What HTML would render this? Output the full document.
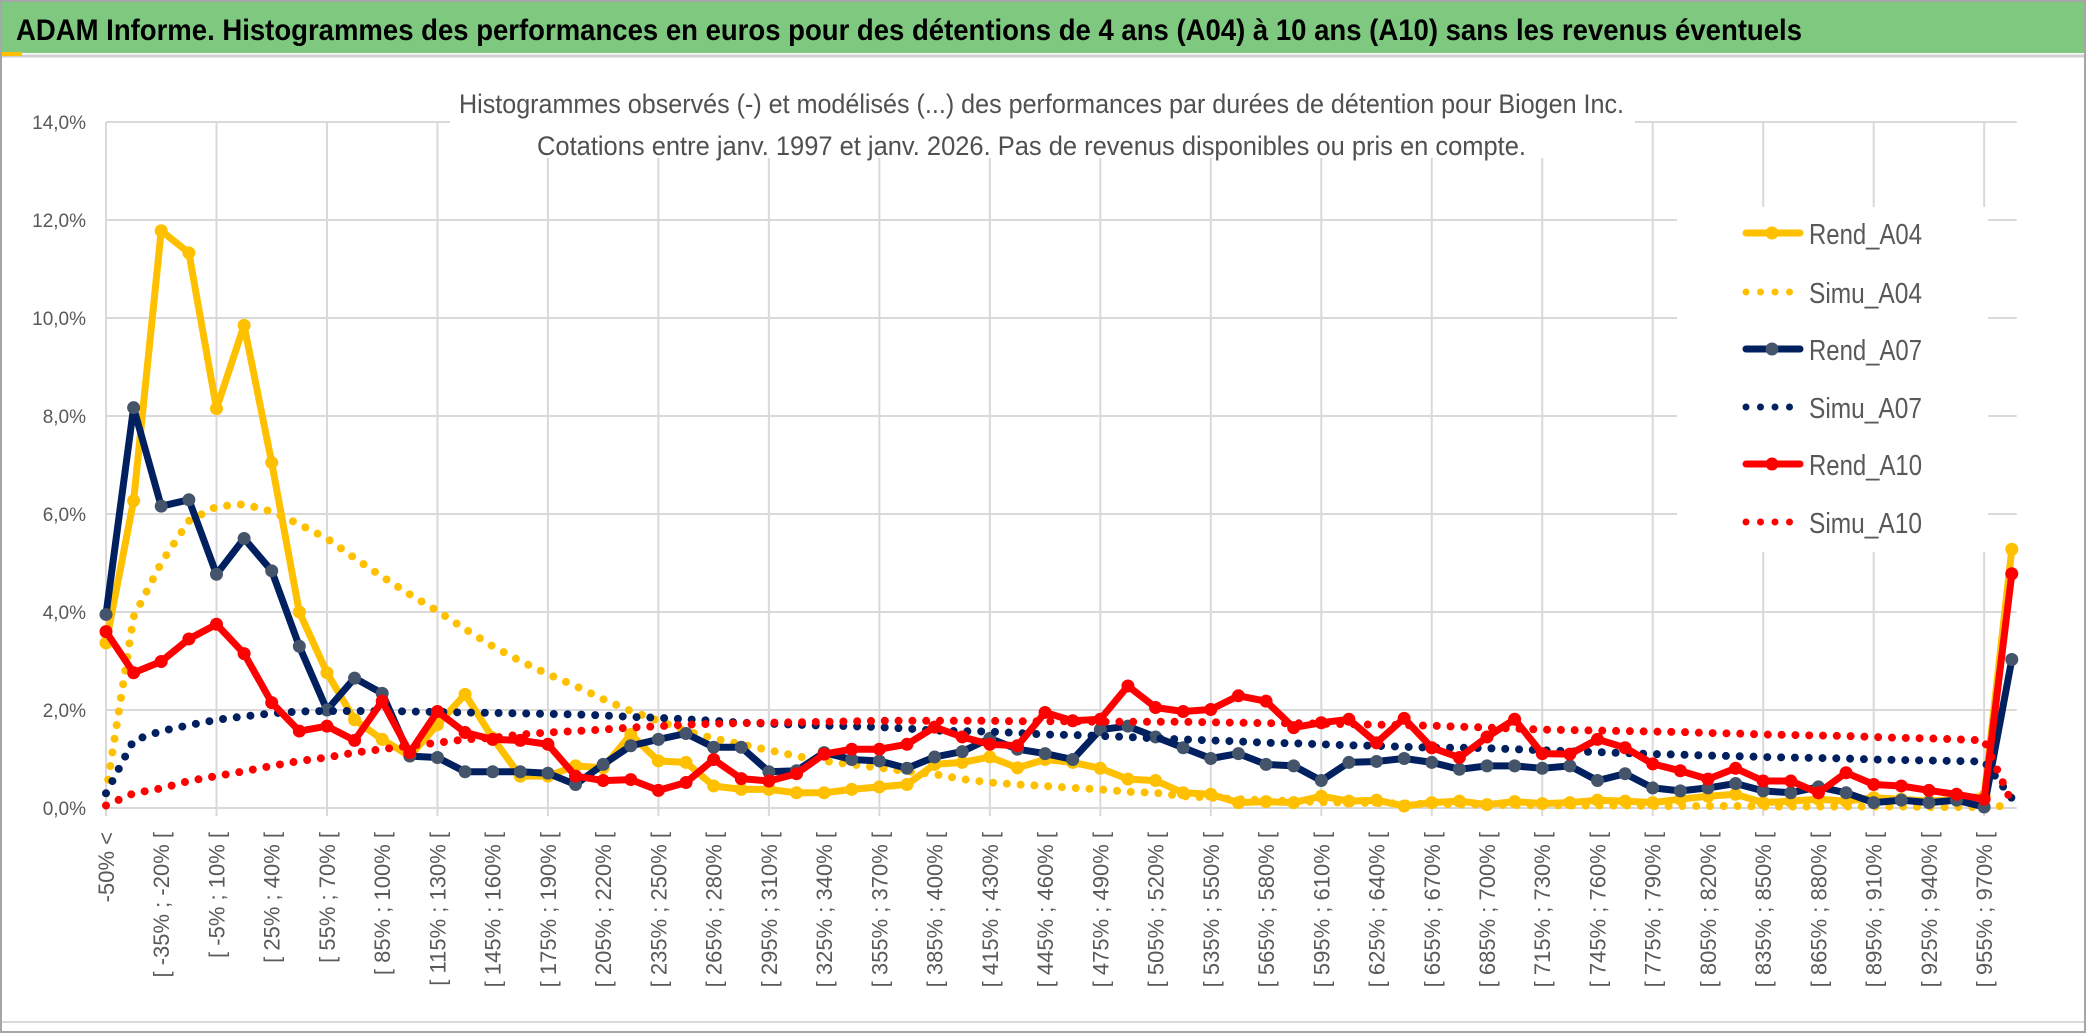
<!DOCTYPE html>
<html><head><meta charset="utf-8"><title>ADAM Informe - Biogen</title>
<style>html,body{margin:0;padding:0;background:#fff;}svg{display:block;}</style></head>
<body>
<svg id="chart" xmlns="http://www.w3.org/2000/svg" width="2086" height="1033" viewBox="0 0 2086 1033" font-family="'Liberation Sans', sans-serif">
  <rect x="0" y="0" width="2086" height="1033" fill="#fff"/>
  <rect x="1" y="1" width="2084" height="1031" fill="none" stroke="#a6a6a6" stroke-width="2"/>
  <rect x="2" y="2" width="2082" height="51" fill="#7ec97f"/>
  <line x1="2" y1="56" x2="2084" y2="56" stroke="#d0d0d0" stroke-width="3"/>
  <rect x="2" y="52" width="20" height="4" fill="#ffc000"/>
  <text x="16" y="40" font-size="30" font-weight="bold" fill="#000" textLength="1786" lengthAdjust="spacingAndGlyphs">ADAM Informe. Histogrammes des performances en euros pour des détentions de 4 ans (A04) à 10 ans (A10) sans les revenus éventuels</text>
  <line x1="2" y1="1022" x2="2084" y2="1022" stroke="#d9d9d9" stroke-width="2"/>
  <g id="grid"></g>
  <g id="yaxis"></g>
  <g id="xaxis"></g>
  <g id="series"></g>
  <rect x="450" y="72" width="1185" height="86" fill="#fff"/>
  <text x="459" y="113" font-size="27" fill="#505050" textLength="1165" lengthAdjust="spacingAndGlyphs">Histogrammes observés (-) et modélisés (...) des performances par durées de détention pour Biogen Inc.</text>
  <text x="537" y="155" font-size="27" fill="#505050" textLength="989" lengthAdjust="spacingAndGlyphs">Cotations entre janv. 1997 et janv. 2026. Pas de revenus disponibles ou pris en compte.</text>
  <g id="legend"></g>
</svg>
<script>
const rendA04 = [3.37,6.27,11.78,11.33,8.15,9.85,7.05,4.0,2.76,1.8,1.4,1.06,1.7,2.32,1.43,0.65,0.65,0.86,0.82,1.5,0.96,0.93,0.45,0.38,0.38,0.31,0.31,0.38,0.43,0.48,0.89,0.93,1.04,0.82,0.99,0.93,0.81,0.59,0.56,0.31,0.28,0.11,0.13,0.11,0.24,0.14,0.16,0.04,0.11,0.14,0.07,0.13,0.09,0.11,0.16,0.14,0.11,0.18,0.24,0.28,0.11,0.14,0.18,0.14,0.21,0.18,0.14,0.18,0.24,5.28];
const simuA04 = [0.3,3.9,5.0,5.86,6.15,6.2,6.05,5.79,5.5,5.1,4.72,4.36,4.02,3.65,3.3,3.0,2.73,2.49,2.22,1.98,1.78,1.57,1.42,1.3,1.18,1.06,0.96,0.89,0.82,0.75,0.69,0.59,0.52,0.48,0.45,0.41,0.38,0.33,0.31,0.24,0.21,0.18,0.16,0.14,0.12,0.11,0.1,0.09,0.08,0.07,0.07,0.06,0.06,0.05,0.05,0.05,0.04,0.04,0.04,0.04,0.03,0.03,0.03,0.03,0.03,0.03,0.02,0.02,0.02,0.05];
const rendA07 = [3.95,8.17,6.16,6.29,4.77,5.5,4.84,3.3,2.0,2.65,2.34,1.06,1.03,0.74,0.74,0.74,0.71,0.48,0.89,1.27,1.4,1.52,1.24,1.24,0.74,0.76,1.13,0.99,0.96,0.81,1.04,1.15,1.42,1.2,1.11,0.99,1.6,1.67,1.45,1.23,1.01,1.11,0.89,0.86,0.56,0.93,0.95,1.01,0.93,0.79,0.86,0.86,0.81,0.86,0.56,0.7,0.41,0.35,0.41,0.5,0.35,0.31,0.43,0.31,0.11,0.16,0.11,0.16,0.02,3.03];
const simuA07 = [0.3,1.38,1.57,1.69,1.8,1.87,1.93,1.97,1.98,1.98,1.98,1.97,1.96,1.95,1.94,1.93,1.92,1.91,1.89,1.86,1.84,1.81,1.78,1.74,1.72,1.7,1.68,1.67,1.65,1.62,1.58,1.57,1.56,1.53,1.5,1.49,1.47,1.45,1.42,1.4,1.38,1.36,1.33,1.32,1.3,1.28,1.27,1.25,1.23,1.23,1.22,1.2,1.18,1.16,1.14,1.12,1.1,1.09,1.07,1.06,1.04,1.03,1.02,1.01,0.99,0.98,0.97,0.96,0.95,0.2];
const rendA10 = [3.6,2.76,2.99,3.45,3.75,3.15,2.15,1.57,1.67,1.38,2.18,1.13,1.97,1.54,1.4,1.38,1.3,0.65,0.56,0.58,0.36,0.52,0.99,0.6,0.55,0.7,1.1,1.2,1.2,1.3,1.65,1.45,1.3,1.27,1.95,1.78,1.81,2.49,2.05,1.97,2.01,2.29,2.18,1.64,1.74,1.81,1.33,1.83,1.23,1.03,1.45,1.81,1.11,1.1,1.4,1.23,0.9,0.76,0.59,0.81,0.55,0.55,0.31,0.72,0.48,0.45,0.36,0.28,0.18,4.78];
const simuA10 = [0.05,0.3,0.4,0.55,0.65,0.75,0.86,0.96,1.03,1.13,1.2,1.27,1.33,1.4,1.43,1.5,1.54,1.57,1.6,1.64,1.67,1.7,1.72,1.73,1.74,1.75,1.76,1.77,1.78,1.78,1.78,1.78,1.78,1.77,1.77,1.77,1.76,1.76,1.76,1.76,1.75,1.74,1.73,1.73,1.72,1.71,1.7,1.69,1.68,1.66,1.64,1.62,1.6,1.59,1.58,1.57,1.56,1.55,1.53,1.52,1.5,1.49,1.48,1.47,1.45,1.43,1.42,1.4,1.38,0.11];
const yTicks = [0,2,4,6,8,10,12,14];
const seriesNames = ["Rend_A04","Simu_A04","Rend_A07","Simu_A07","Rend_A10","Simu_A10"];

const NS = "http://www.w3.org/2000/svg";
const nCat = rendA04.length;
const X0 = 106, STEP = 27.62, Y0 = 808, PX_PER_PCT = 49;
function xPos(i){ return X0 + i*STEP; }
function yPos(v){ return Y0 - v*PX_PER_PCT; }
function mk(tag, attrs, parent){ const e=document.createElementNS(NS,tag); for(const k in attrs) e.setAttribute(k, attrs[k]); parent.appendChild(e); return e; }
function catLabel(i){
  if(i===0) return "-50% <";
  if(i===nCat-1) return "> 970%";
  const a=-50+15*(i-1), b=a+15; return "[ "+a+"% ; "+b+"% [";
}

const grid=document.getElementById('grid');
yTicks.forEach(t=>{
  const l=mk('line',{x1:X0,x2:xPos(nCat-1)+5,y1:yPos(t),y2:yPos(t),stroke:'#d9d9d9','stroke-width':2},grid);
  
  
});
for(let i=0;i<nCat;i+=4){
  const l=mk('line',{x1:xPos(i),x2:xPos(i),y1:yPos(14),y2:yPos(0)+8,stroke:'#d9d9d9','stroke-width':2},grid);
  
  
}

const yax=document.getElementById('yaxis');
yTicks.forEach(t=>{
  const tx=mk('text',{x:86,y:yPos(t)+7,'text-anchor':'end','font-size':19,fill:'#595959'},yax);
  tx.textContent=t.toFixed(1).replace('.',',')+'%';
  
  
});

const xax=document.getElementById('xaxis');
for(let i=0;i<nCat;i+=2){
  const cx=xPos(i)+8, cy=832;
  const tx=mk('text',{x:cx,y:cy,'text-anchor':'end','font-size':22,fill:'#595959',transform:'rotate(-90 '+cx+' '+cy+')'},xax);
  tx.textContent=catLabel(i);
  
  
}

const sg=document.getElementById('series');
function pts(arr){ return arr.map((v,i)=>xPos(i).toFixed(1)+','+yPos(v).toFixed(1)).join(' '); }
function solid(arr,color,mfill,name){
  const g=mk('g',{},sg);
  
  
  const p=mk('polyline',{points:pts(arr),fill:'none',stroke:color,'stroke-width':7,'stroke-linejoin':'round','stroke-linecap':'round'},g);
  
  
  arr.forEach((v,i)=>{
    const c=mk('circle',{cx:xPos(i),cy:yPos(v),r:6.5,fill:mfill},g);
    
    
  });
}
function dotted(arr,color,name){
  const p=mk('polyline',{points:pts(arr),fill:'none',stroke:color,'stroke-width':8,'stroke-linecap':'round','stroke-linejoin':'round','stroke-dasharray':'0 13.8'},sg);
  
  
}
solid(rendA04,'#ffc000','#ffc000','rend-a04');
dotted(simuA04,'#ffc000','simu-a04');
solid(rendA07,'#002060','#44546a','rend-a07');
dotted(simuA07,'#002060','simu-a07');
solid(rendA10,'#ff0000','#ff0000','rend-a10');
dotted(simuA10,'#ff0000','simu-a10');

const lg=document.getElementById('legend');
const bg=mk('rect',{x:1677,y:207,width:311,height:345,fill:'#fff'},lg);


const legY=[233,292,349,407,464,522];
const legStyle=[['#ffc000','#ffc000',false],['#ffc000',null,true],['#002060','#44546a',false],['#002060',null,true],['#ff0000','#ff0000',false],['#ff0000',null,true]];
seriesNames.forEach((nm,k)=>{
  const g=mk('g',{},lg);
  
  
  const y=legY[k], st=legStyle[k];
  if(st[2]){
    mk('line',{x1:1746,x2:1800,y1:y,y2:y,stroke:st[0],'stroke-width':7,'stroke-linecap':'round','stroke-dasharray':'0 14.5'},g);
  } else {
    mk('line',{x1:1746,x2:1800,y1:y,y2:y,stroke:st[0],'stroke-width':7,'stroke-linecap':'round'},g);
    mk('circle',{cx:1772,cy:y,r:6.5,fill:st[1]},g);
  }
  const t=mk('text',{x:1809,y:y+11,'font-size':29,fill:'#595959',textLength:113,lengthAdjust:'spacingAndGlyphs'},g);
  t.textContent=nm;
  
  
});
</script>
</body></html>
